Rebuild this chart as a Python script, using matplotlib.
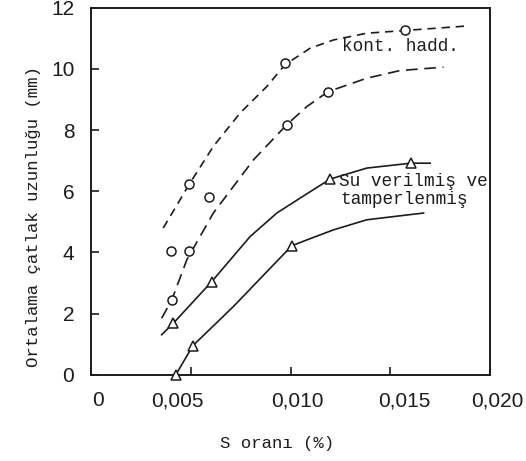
import matplotlib.pyplot as plt
from matplotlib.transforms import ScaledTranslation

# okunan degerler (S orani %, ortalama catlak uzunlugu mm)
circ_x = [0.01574, 0.00972, 0.01188, 0.00981, 0.00493, 0.00593, 0.00400, 0.00493, 0.00405]
circ_y = [11.26, 10.21, 9.26, 8.18, 6.24, 5.80, 4.06, 4.06, 2.45]

tri_x = [0.01603, 0.01198, 0.01006, 0.00605, 0.00413, 0.00510, 0.00425]
tri_y = [6.92, 6.40, 4.22, 3.05, 1.69, 0.95, 0.0]

# kont. hadd. egrileri (kesikli)
c1_x = [0.00362, 0.00493, 0.00613, 0.00747, 0.00881, 0.00972, 0.01098, 0.01215, 0.01382, 0.01574, 0.01891]
c1_y = [4.80, 6.24, 7.47, 8.56, 9.43, 10.14, 10.68, 10.95, 11.17, 11.26, 11.41]
c2_x = [0.00354, 0.00405, 0.00480, 0.00613, 0.00814, 0.00981, 0.01081, 0.01188, 0.01382, 0.01549, 0.01766]
c2_y = [1.85, 2.45, 3.76, 5.29, 7.03, 8.18, 8.77, 9.26, 9.70, 9.95, 10.06]

# su verilmis ve temperlenmis egrileri (duz)
c3_x = [0.00354, 0.00413, 0.00605, 0.00797, 0.00931, 0.01048, 0.01198, 0.01382, 0.01603, 0.01699]
c3_y = [1.31, 1.69, 3.05, 4.52, 5.29, 5.78, 6.40, 6.76, 6.92, 6.92]
c4_x = [0.00425, 0.00510, 0.00713, 0.01006, 0.01081, 0.01215, 0.01382, 0.01666]
c4_y = [0.0, 0.95, 2.23, 4.22, 4.41, 4.74, 5.07, 5.29]

x_ticks = [0, 0.005, 0.010, 0.015, 0.020]
x_labels = ["0", "0,005", "0,010", "0,015", "0,020"]
y_ticks = [0, 2, 4, 6, 8, 10, 12]

ink = "#1c1c1c"
mono = "Liberation Mono"

fig = plt.figure(figsize=(5.26, 4.61), dpi=100)
ax = fig.add_axes([0.173, 0.187, 0.759, 0.796])

ax.plot(c1_x, c1_y, color=ink, lw=1.2, dashes=(5, 3.5), zorder=2)
ax.plot(c2_x, c2_y, color=ink, lw=1.2, dashes=(7, 4), zorder=2)
ax.plot(c3_x, c3_y, color=ink, lw=1.2, zorder=2)
ax.plot(c4_x, c4_y, color=ink, lw=1.2, zorder=2)

ax.plot(circ_x, circ_y, "o", ms=6.5, mfc="white", mec=ink, mew=1.1, zorder=3, clip_on=False)
ax.plot(tri_x, tri_y, "^", ms=6.5, mfc="white", mec=ink, mew=1.1, zorder=3, clip_on=False)

ax.text(0.01255, 10.75, "kont. hadd.", family=mono, fontsize=12.8, color=ink, va="center")
ax.text(0.01240, 6.33, "Su verilmiş ve", family=mono, fontsize=12.8, color=ink, va="center")
ax.text(0.01250, 5.72, "tamperlenmiş", family=mono, fontsize=12.8, color=ink, va="center")

ax.set_xlim(0, 0.020)
ax.set_ylim(0, 12)
ax.set_xticks(x_ticks)
ax.set_xticklabels(x_labels)
ax.set_yticks(y_ticks)
ax.tick_params(direction="in", length=6, width=1.2, colors=ink, labelsize=15, pad=12)
for lab in ax.get_xticklabels() + ax.get_yticklabels():
    lab.set_family("Liberation Sans")

# x etiketleri orijinalde biraz kaymis
x_shift = [5, -10, 5, 10, 5]
for lab, dx in zip(ax.get_xticklabels(), x_shift):
    lab.set_transform(lab.get_transform() + ScaledTranslation(dx / 72, 0, fig.dpi_scale_trans))

for sp in ax.spines.values():
    sp.set_linewidth(1.4)
    sp.set_color(ink)

ax.set_xlabel("S oranı (%)", family=mono, fontsize=12.5, color=ink)
ax.set_ylabel("Ortalama çatlak uzunluğu (mm)", family=mono, fontsize=12.5, color=ink)
ax.xaxis.set_label_coords(0.466, -0.167)
ax.yaxis.set_label_coords(-0.125, 0.43)

fig.savefig("out.png", dpi=100)
